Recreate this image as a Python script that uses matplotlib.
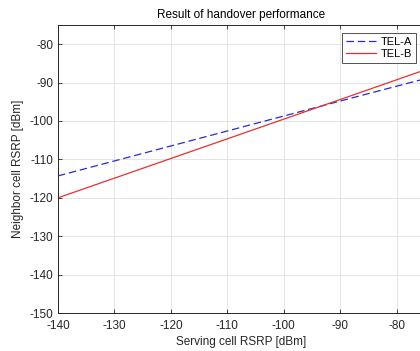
import numpy as np
import matplotlib.pyplot as plt

plt.rcParams['font.family'] = ['Liberation Sans', 'DejaVu Sans']
plt.rcParams['axes.unicode_minus'] = False

# data
serving = [-140, -90, -75]
tel_a = [-114.3, -94.8, -89.0]
tel_b = [-120.0, -94.4, -86.7]
xticks = [-140, -130, -120, -110, -100, -90, -80]
yticks = [-150, -140, -130, -120, -110, -100, -90, -80]

fig = plt.figure(figsize=(4.2, 3.51), dpi=100)
ax = fig.add_axes([0.138, 0.108, 0.874, 0.821])

ax.plot(serving, tel_a, '--', color='#2a2ad0', linewidth=0.9, dashes=(6, 3), label='TEL-A')
ax.plot(serving, tel_b, '-', color='#e83030', linewidth=0.9, label='TEL-B')

ax.set_xlim(-140, -75)
ax.set_ylim(-150, -75)
ax.set_xticks(xticks)
ax.set_yticks(yticks)
ax.grid(True, color='#e4e4e4', linewidth=0.7)
ax.tick_params(direction='in', top=True, right=True, length=3, width=0.6,
               labelsize=8.5, colors='#262626')
ax.tick_params(axis='x', pad=5)
for s in ax.spines.values():
    s.set_color('#262626')
    s.set_linewidth(0.7)

ax.set_title('Result of handover performance', fontsize=8.5, color='black', pad=5)
ax.set_xlabel('Serving cell RSRP [dBm]', fontsize=8.5, color='#262626', labelpad=3)
ax.set_ylabel('Neighbor cell RSRP [dBm]', fontsize=8.5, color='#262626', labelpad=4)

leg = ax.legend(loc='upper right', bbox_to_anchor=(416 / 420, 1 - 33 / 351),
                bbox_transform=fig.transFigure, fontsize=8, frameon=True,
                fancybox=False, borderpad=0.35, labelspacing=0.2,
                handlelength=2.7, handletextpad=0.4, borderaxespad=0)
leg.get_frame().set_edgecolor('#262626')
leg.get_frame().set_linewidth(0.7)

fig.savefig('out.png', dpi=100)
